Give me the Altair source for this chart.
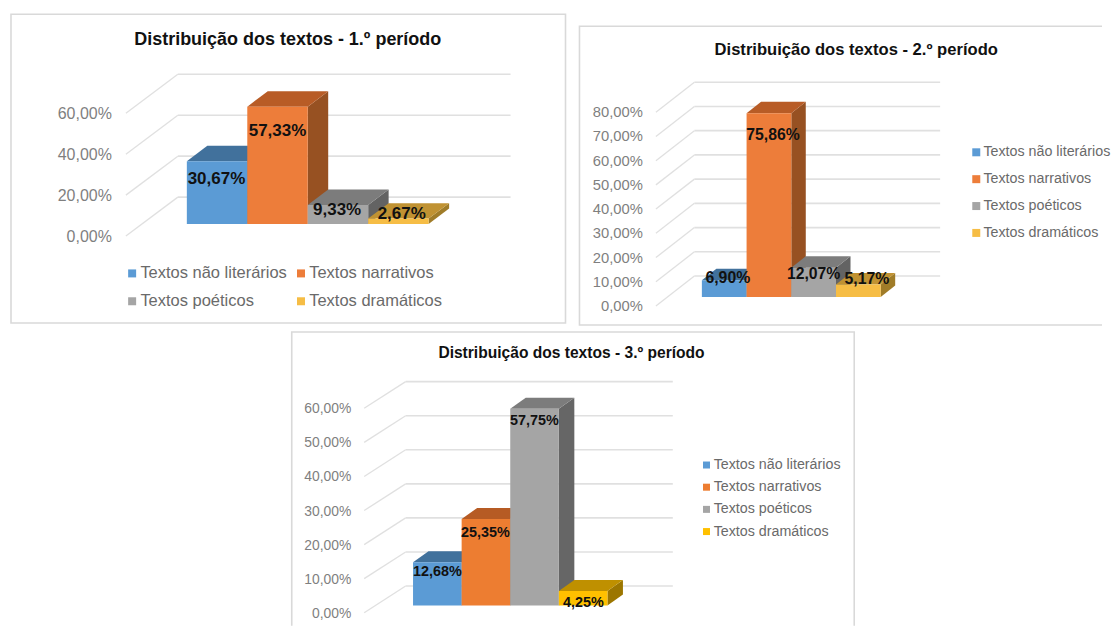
import altair as alt
import pandas as pd

FONT = "Liberation Sans"
categories = ["Textos não literários", "Textos narrativos", "Textos poéticos", "Textos dramáticos"]

titles = ["Distribuição dos textos - 1.º período",
          "Distribuição dos textos - 2.º período",
          "Distribuição dos textos - 3.º período"]

values_1 = [30.67, 57.33, 9.33, 2.67]
values_2 = [6.90, 75.86, 12.07, 5.17]
values_3 = [12.68, 25.35, 57.75, 4.25]

ticks_1 = [0, 20, 40, 60]
ticks_2 = [0, 10, 20, 30, 40, 50, 60, 70, 80]
ticks_3 = [0, 10, 20, 30, 40, 50, 60]

labelx_1 = [0.49, 1.50, 2.486, 3.555]
labely_1 = [22.4, 45.9, 7.3, 5.4]
labelx_2 = [0.58, 1.59, 2.50, 3.69]
labely_2 = [8.2, 67.2, 9.9, 7.8]
labelx_3 = [0.50, 1.49, 2.495, 3.507]
labely_3 = [10.0, 21.7, 54.5, 0.9]

front_a = ["#5b9bd5", "#ed7d3a", "#a5a5a5", "#f6bd45"]
top_a = ["#41719c", "#b85c26", "#7c7c7c", "#c09232"]
side_a = ["#355f85", "#975122", "#636363", "#a07c28"]
front_b = ["#5b9bd5", "#ed7d31", "#a5a5a5", "#ffc000"]
top_b = ["#41719c", "#b65b24", "#7c7c7c", "#bf9000"]
side_b = ["#355f85", "#975122", "#666666", "#9c7600"]

GRID = "#e0e0e0"
FRAME = "#d9d9d9"


def pct(v):
    return f"{v:.2f}".replace(".", ",") + "%"


def panel(cfg):
    # cfg holds page geometry; ox/oy is the panel's origin on the page
    ox, oy = cfg["ox"], cfg["oy"]
    x0, w, base, k = cfg["x0"] - ox, cfg["bw"], cfg["base"] - oy, cfg["k"]
    vals, ticks = cfg["values"], cfg["ticks"]
    vmax = max(ticks)
    xs = alt.Scale(domain=[0, 4], range=[x0, x0 + 4 * w])
    ys = alt.Scale(domain=[0, vmax], range=[base, base - vmax * k])
    X = lambda f: alt.X(f, type="quantitative", scale=xs, axis=None)
    Y = lambda f: alt.Y(f, type="quantitative", scale=ys, axis=None)

    d = cfg["dx"] / w
    dv = cfg["dy"] / k
    xf = (cfg["frontx"] - cfg["x0"]) / w
    xwl = (cfg["walll"] - cfg["x0"]) / w
    xwr = (cfg["wallr"] - cfg["x0"]) / w
    fv = cfg["fdrop"] / k
    wv = cfg["wrise"] / k

    bars = pd.DataFrame({"cat": categories, "v": vals, "zero": 0.0,
                         "xl": [float(i) for i in range(4)],
                         "xr": [float(i + 1) for i in range(4)],
                         "lx": cfg["lx"], "ly": cfg["ly"],
                         "txt": [pct(v) for v in vals]})
    side_rows, top_rows = [], []
    for i, v in enumerate(vals):
        c = cfg["side"][i]
        side_rows += [dict(b=i, x=i + 1.0, y=0.0, y2=v, c=c),
                      dict(b=i, x=i + 1.0 + d, y=dv, y2=v + dv, c=c)]
        c = cfg["top"][i]
        top_rows += [dict(b=i, x=float(i), y=v, y2=v, c=c),
                     dict(b=i, x=i + d, y=v, y2=v + dv, c=c),
                     dict(b=i, x=i + 1.0, y=v, y2=v + dv, c=c),
                     dict(b=i, x=i + 1.0 + d, y=v + dv, y2=v + dv, c=c)]

    tick_df = pd.DataFrame({"t": ticks})
    tick_df["wy"] = tick_df["t"] + wv
    tick_df["fy"] = tick_df["t"] - fv
    tick_df["xf"] = xf
    tick_df["xl"] = xwl
    tick_df["xr"] = xwr
    tick_df["xa"] = (cfg["axisr"] - cfg["x0"]) / w
    tick_df["lab"] = [pct(float(t)) for t in ticks]

    one = pd.DataFrame({"a": [0]})
    frame = alt.Chart(one).mark_rect(fillOpacity=0, stroke=FRAME, strokeWidth=1.6, clip=True).encode(
        x=alt.value(cfg["fx"][0] - ox), x2=alt.value(cfg["fx"][1] - ox),
        y=alt.value(cfg["fy"][0] - oy), y2=alt.value(cfg["fy"][1] - oy))

    wall = alt.Chart(tick_df).mark_rule(color=GRID, strokeWidth=1.6).encode(
        x=X("xl"), x2=alt.X2("xr"), y=Y("wy"))
    diag = alt.Chart(tick_df).mark_rule(color=GRID, strokeWidth=1.3).encode(
        x=X("xf"), x2=alt.X2("xl"), y=Y("fy"), y2=alt.Y2("wy"))
    tick_labels = alt.Chart(tick_df).mark_text(font=FONT, fontSize=cfg["axfs"], color="#7f7f7f",
                                               align="right", baseline="middle", dy=1).encode(
        x=X("xa"), y=Y("fy"), text="lab:N")

    sides = alt.Chart(pd.DataFrame(side_rows)).mark_area(opacity=1).encode(
        x=X("x"), y=Y("y"), y2=alt.Y2("y2"), detail="b:N",
        fill=alt.Fill("c:N", scale=None))
    tops = alt.Chart(pd.DataFrame(top_rows)).mark_area(opacity=1).encode(
        x=X("x"), y=Y("y"), y2=alt.Y2("y2"), detail="b:N",
        fill=alt.Fill("c:N", scale=None))
    fronts = alt.Chart(bars).mark_rect().encode(
        x=X("xl"), x2=alt.X2("xr"), y=Y("zero"), y2=alt.Y2("v"),
        color=alt.Color("cat:N", sort=categories,
                        scale=alt.Scale(domain=categories, range=cfg["front"]),
                        legend=alt.Legend(
                            title=None, orient="none", legendX=cfg["legx"] - ox, legendY=cfg["legy"] - oy,
                            direction="horizontal" if cfg["legcols"] > 1 else "vertical",
                            columns=cfg["legcols"], symbolType="square", symbolSize=cfg["symsize"],
                            symbolStrokeWidth=0, labelFont=FONT, labelFontSize=cfg["legfs"],
                            labelColor="#6a6a6a", rowPadding=cfg["rowpad"], columnPadding=cfg["colpad"],
                            labelOffset=cfg["laboffset"], labelLimit=300, padding=0)))
    texts = alt.Chart(bars).mark_text(font=FONT, fontWeight="bold", fontSize=cfg["lfs"], dy=1,
                                      color="#111111", baseline="middle", align="center").encode(
        x=X("lx"), y=Y("ly"), text="txt:N")
    title = alt.Chart(one).mark_text(font=FONT, fontWeight="bold", fontSize=cfg["tfs"],
                                     color="#111111", baseline="middle", align="center").encode(
        x=alt.value(cfg["tx"] - ox), y=alt.value(cfg["ty"] - oy), text=alt.value(cfg["title"]))

    return alt.layer(frame, wall, diag, tick_labels, sides, tops, fronts, texts, title).properties(
        width=cfg["w"], height=cfg["h"]).resolve_scale(color="independent", fill="independent")


p1 = panel(dict(ox=8, oy=8, w=566, h=321, fx=(11, 566), fy=(14, 323), title=titles[0], tx=288, ty=40, tfs=18,
                x0=187, bw=60.5, base=224, k=2.05, dx=20.5, dy=15.5, values=values_1, ticks=ticks_1,
                frontx=126, walll=178, wallr=511, fdrop=12, wrise=27, axisr=112, axfs=16,
                lx=labelx_1, ly=labely_1, lfs=17, front=front_a, top=top_a, side=side_a,
                legx=124, legy=265, legcols=2, symsize=64, legfs=16.5, rowpad=11, colpad=5, laboffset=0))
p2 = panel(dict(ox=574, oy=8, w=529, h=321, fx=(580, 1135), fy=(26, 325), title=titles[1], tx=857, ty=50, tfs=16.6,
                x0=702.5, bw=44.75, base=297, k=2.425, dx=14.5, dy=11.5, values=values_2, ticks=ticks_2,
                frontx=656.5, walll=695, wallr=941, fdrop=9, wrise=21, axisr=643.5, axfs=14.8,
                lx=labelx_2, ly=labely_2, lfs=15.8, front=front_a, top=top_a, side=side_a,
                legx=970, legy=145, legcols=1, symsize=64, legfs=14.3, rowpad=11.9, colpad=10, laboffset=0))
p3 = panel(dict(ox=8, oy=329, w=1103, h=297, fx=(292, 855), fy=(332, 650), title=titles[2], tx=572, ty=353, tfs=15.6,
                x0=413.4, bw=48.65, base=605.7, k=3.41, dx=15.5, dy=11, values=values_3, ticks=ticks_3,
                frontx=364.5, walll=406, wallr=673.4, fdrop=7.3, wrise=19.4, axisr=351.6, axfs=13.9,
                lx=labelx_3, ly=labely_3, lfs=14.4, front=front_b, top=top_b, side=side_b,
                legx=700, legy=458, legcols=1, symsize=49, legfs=14.3, rowpad=7.2, colpad=10, laboffset=0))

chart = alt.vconcat(alt.hconcat(p1, p2, spacing=0), p3, spacing=0).properties(
    padding=0, background="white"
).configure_view(stroke=None)

chart.save("out.html", embed_options={"renderer": "svg", "actions": False})
